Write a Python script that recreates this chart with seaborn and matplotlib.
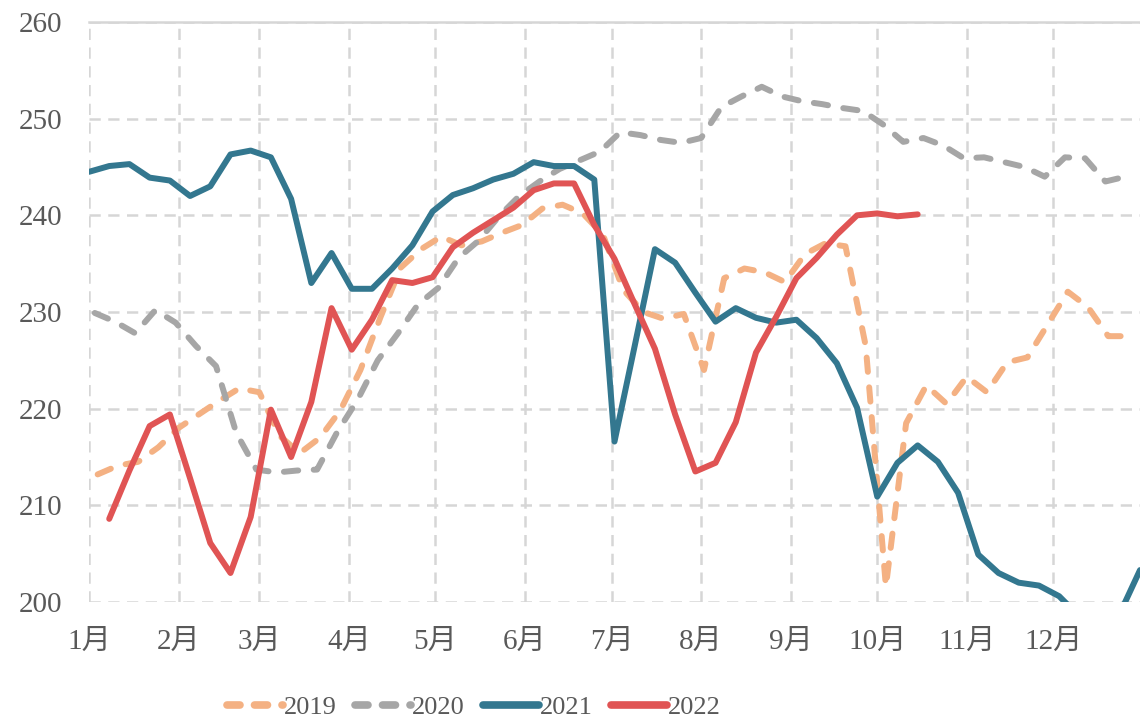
import matplotlib
matplotlib.use("Agg")
import matplotlib.pyplot as plt
import numpy as np
import pandas as pd
import seaborn as sns

# 周度数据（按年叠加），x 为当年的第几天
month_labels = ['1月', '2月', '3月', '4月', '5月', '6月', '7月', '8月', '9月', '10月', '11月', '12月']
month_start_day = [0, 31, 59, 90, 120, 151, 181, 212, 243, 273, 304, 334]

years = ['2019', '2020', '2021', '2022']
first_day = {'2019': 3, '2020': 2, '2021': 0, '2022': 7}

v2019 = [213.2, 214.1, 214.5, 216.0, 218.0, 219.4, 220.8, 222.1, 221.7, 217.2,
         215.4, 217.0, 219.8, 224.0, 229.5, 234.6, 236.5, 237.8, 236.9, 237.3,
         238.2, 239.0, 240.7, 241.1, 240.2, 238.0, 232.3, 230.0, 229.3, 229.8,
         224.0, 233.5, 234.5, 234.1, 233.1, 236.0, 237.1, 236.8, 226.5, 201.6,
         218.5, 222.4, 220.5, 223.3, 221.7, 224.8, 225.3, 228.7, 232.1, 230.5,
         227.5, 227.5]
v2020 = [229.9, 229.0, 227.8, 230.2, 228.9, 226.5, 224.4, 217.5, 213.7, 213.4,
         213.6, 213.7, 217.6, 220.9, 225.0, 227.8, 230.8, 232.5, 235.6, 237.4,
         239.9, 242.0, 243.5, 244.8, 245.7, 246.6, 248.6, 248.3, 247.8, 247.5,
         248.0, 251.2, 252.3, 253.3, 252.3, 251.8, 251.5, 251.1, 250.8, 249.4,
         247.6, 248.0, 247.2, 245.9, 246.0, 245.5, 245.0, 244.0, 246.0, 245.9,
         243.5, 244.0]
v2021 = [244.5, 245.1, 245.3, 243.9, 243.6, 242.0, 243.0, 246.3, 246.7, 246.0,
         241.7, 233.0, 236.1, 232.4, 232.4, 234.5, 236.9, 240.4, 242.1, 242.8,
         243.7, 244.3, 245.5, 245.1, 245.1, 243.7, 216.6, 226.5, 236.5, 235.1,
         232.0, 229.0, 230.4, 229.4, 228.9, 229.2, 227.3, 224.7, 220.1, 210.9,
         214.4, 216.2, 214.5, 211.3, 204.9, 203.0, 202.0, 201.7, 200.6, 198.5,
         197.5, 198.8, 203.3]
v2022 = [208.6, 213.6, 218.2, 219.4, 212.8, 206.1, 203.0, 208.8, 219.9, 215.0,
         220.7, 230.4, 226.1, 229.2, 233.3, 233.0, 233.6, 236.7, 238.2, 239.5,
         240.8, 242.6, 243.3, 243.3, 239.0, 235.5, 230.8, 226.2, 219.4, 213.5,
         214.4, 218.6, 225.8, 229.5, 233.5, 235.6, 238.0, 240.0, 240.2, 239.9,
         240.1]

values = {'2019': v2019, '2020': v2020, '2021': v2021, '2022': v2022}
colors = {'2019': '#f4b183', '2020': '#a6a6a6', '2021': '#33778f', '2022': '#e05454'}
dashed = {'2019': True, '2020': True, '2021': False, '2022': False}

frames = []
for y in years:
    n = len(values[y])
    frames.append(pd.DataFrame({'day': first_day[y] + 7 * np.arange(n),
                                'price': values[y], 'year': y}))
df = pd.concat(frames, ignore_index=True)

sns.set_style('white')
plt.rcParams['font.family'] = ['Liberation Serif', 'Noto Sans CJK SC']
text_color = '#595959'
grid_color = '#d6d6d6'

fig = plt.figure(figsize=(11.4, 7.2), dpi=100)
ax = fig.add_axes([89 / 1140, 118 / 720, 1051 / 1140, 580 / 720])

for y in years:
    sub = df[df['year'] == y]
    sns.lineplot(data=sub, x='day', y='price', ax=ax, color=colors[y],
                 linewidth=4.3, label=y, legend=False)
    line = ax.lines[-1]
    line.set_solid_joinstyle('round')
    line.set_solid_capstyle('round')
    if dashed[y]:
        line.set_dashes((2.4, 2.6))
        line.set_dash_capstyle('round')

ax.set_xlim(0, 364)
ax.set_ylim(200, 260)
ax.set_xticks(month_start_day)
ax.set_xticklabels(month_labels)
ax.set_yticks(np.arange(200, 261, 10))
ax.set_xlabel('')
ax.set_ylabel('')

ax.grid(True, color=grid_color, linestyle=(0, (4.5, 3)), linewidth=1.8)
ax.set_axisbelow(True)
for s in ['left', 'right', 'bottom']:
    ax.spines[s].set_visible(False)
ax.spines['top'].set_color(grid_color)
ax.spines['top'].set_linewidth(1.8)

ax.tick_params(axis='x', length=0, pad=19, labelsize=21, labelcolor=text_color)
ax.tick_params(axis='y', length=0, pad=19, labelsize=21, labelcolor=text_color)

handles, labels = ax.get_legend_handles_labels()
leg = fig.legend(handles, labels, loc='center', bbox_to_anchor=(0.416, 0.018),
                 ncol=4, frameon=False, fontsize=19, handlelength=2.1,
                 handletextpad=0.05, columnspacing=0.7)
for t in leg.get_texts():
    t.set_color(text_color)
for h, y in zip(leg.get_lines(), years):
    h.set_linewidth(5.5)
    h.set_solid_capstyle('round')
    if dashed[y]:
        h.set_dashes((1.7, 1.9))
        h.set_dash_capstyle('round')

fig.savefig('out.png', dpi=100)
